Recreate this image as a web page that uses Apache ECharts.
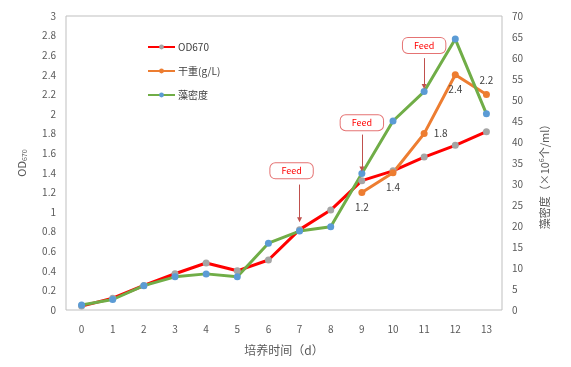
<!DOCTYPE html>
<html><head><meta charset="utf-8">
<script src="https://cdn.jsdelivr.net/npm/echarts@6/dist/echarts.min.js"></script>
<style>html,body{margin:0;padding:0;background:#fff}#c{width:571px;height:367px}</style>
</head><body><div id="c"></div>
<script>
const days = ['0','1','2','3','4','5','6','7','8','9','10','11','12','13'];
const od670 = [0.04,0.12,0.25,0.37,0.48,0.40,0.51,0.82,1.02,1.32,1.42,1.56,1.68,1.82];
const dryWeight = [null,null,null,null,null,null,null,null,null,1.2,1.4,1.8,2.4,2.2];
const density = [1.2,2.5,5.8,7.9,8.6,7.9,15.9,18.8,19.8,32.5,45,52,64.5,46.7];
const leftTicks = {min:0,max:3,interval:0.2};
const rightTicks = {min:0,max:70,interval:5};
const feedDays = ['7','9','11'];
const feedBoxY = [1.42,1.91,2.70];
const feedArrowFrom = [1.28,1.79,2.57];
const feedArrowTo = [0.92,1.44,2.28];
const dryLabelPos = [null,null,null,null,null,null,null,null,null,'bottom','bottom','right','bottom','top'];

const FONT = '"Noto Sans CJK SC", "Open Sans", sans-serif';
const boxOffsets = [[-8,0],[0,0],[0,0]];
const chart = echarts.init(document.getElementById('c'));
chart.setOption({
  animation:false,
  textStyle:{fontFamily:FONT},
  grid:{left:66,right:69,top:16,bottom:57,show:true,borderColor:'#bfbfbf',borderWidth:1,backgroundColor:'transparent'},
  legend:{
    orient:'vertical',left:142,top:37,itemGap:14,itemWidth:27,itemHeight:6,
    textStyle:{fontSize:10,color:'#404040',fontFamily:FONT,padding:[0,0,0,-2]},
    data:['OD670','干重(g/L)','藻密度']
  },
  xAxis:{
    type:'category',data:days,boundaryGap:true,
    axisLine:{show:false},axisTick:{show:false},
    axisLabel:{fontSize:10,color:'#595959',margin:14},
    name:'培养时间（d）',nameLocation:'middle',nameGap:34,
    nameTextStyle:{fontSize:12,color:'#595959'}
  },
  yAxis:[{
    type:'value',min:leftTicks.min,max:leftTicks.max,interval:leftTicks.interval,
    splitLine:{show:false},axisLine:{show:false},axisTick:{show:false},
    axisLabel:{fontSize:10,color:'#595959',margin:10},
    name:'{a|OD}{b|670}',nameLocation:'middle',nameGap:38,nameRotate:90,
    nameTextStyle:{rich:{a:{fontSize:11,color:'#595959'},b:{fontSize:7,color:'#595959',verticalAlign:'bottom',padding:[6,0,0,0]}}}
  },{
    type:'value',min:rightTicks.min,max:rightTicks.max,interval:rightTicks.interval,
    splitLine:{show:false},axisLine:{show:false},axisTick:{show:false},
    axisLabel:{fontSize:10,color:'#595959',margin:10},
    name:'{a|藻密度（×10}{b|6}{a|个/ml）}',nameLocation:'middle',nameGap:36,nameRotate:90,
    nameTextStyle:{padding:[0,0,0,-22],rich:{a:{fontSize:11,color:'#595959'},b:{fontSize:7,color:'#595959',verticalAlign:'top',padding:[0,0,6,0]}}}
  }],
  series:[{
    name:'OD670',type:'line',data:od670,yAxisIndex:0,
    symbol:'circle',symbolSize:7,
    lineStyle:{color:'#ff0000',width:3},itemStyle:{color:'#a5a5a5'},
    markLine:{
      silent:true,symbol:['none','triangle'],symbolSize:[5,5],
      lineStyle:{color:'#c0504d',width:1,type:'solid'},label:{show:false},
      data:feedDays.map((d,i)=>[{coord:[d,feedArrowFrom[i]]},{coord:[d,feedArrowTo[i]]}])
    },
    markPoint:{
      silent:true,symbol:'rect',symbolSize:1,itemStyle:{color:'transparent'},
      label:{show:true,formatter:'Feed',position:'inside',color:'#ff0000',fontSize:9,
        backgroundColor:'#fff',borderColor:'#e57373',borderWidth:1,borderRadius:5,padding:[3,11,3,11]},
      data:feedDays.map((d,i)=>({coord:[d,feedBoxY[i]],label:{offset:boxOffsets[i]}}))
    }
  },{
    name:'干重(g/L)',type:'line',data:dryWeight.map((v,i)=>v==null?null:{value:v,label:{position:dryLabelPos[i]}}),yAxisIndex:0,
    symbol:'circle',symbolSize:7,connectNulls:false,
    lineStyle:{color:'#ed7d31',width:3},itemStyle:{color:'#ed7d31'},
    label:{show:true,fontSize:10,color:'#404040',distance:6}
  },{
    name:'藻密度',type:'line',data:density,yAxisIndex:1,
    symbol:'circle',symbolSize:7,
    lineStyle:{color:'#70ad47',width:3},itemStyle:{color:'#5b9bd5'}
  }]
});
</script></body></html>
